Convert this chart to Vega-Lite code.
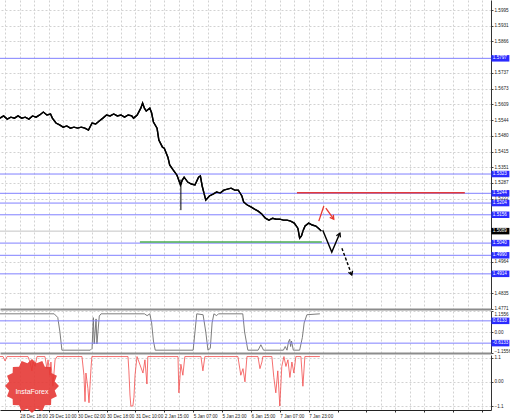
{
  "$schema": "https://vega.github.io/schema/vega-lite/v6.json",
  "background": "white",
  "padding": {"left": -3, "top": 0, "right": 0, "bottom": 0},
  "spacing": 2,
  "bounds": "flush",
  "config": {
    "view": {"stroke": null},
    "font": "Liberation Sans",
    "axis": {
      "labelFont": "Liberation Sans",
      "labelFontSize": 4.6,
      "labelColor": "#222222",
      "gridColor": "#d2d2d2",
      "gridDash": [2, 2],
      "gridWidth": 1,
      "tickColor": "#444444",
      "tickSize": 2,
      "domainColor": "#333333",
      "labelOverlap": false,
      "labelBound": false,
      "title": null
    }
  },
  "datasets": {
    "price": [
      {"b":0,"p":1.5552},{"b":2,"p":1.5561},{"b":4,"p":1.5548},{"b":6,"p":1.5556},{"b":8,"p":1.5552},{"b":10,"p":1.5561},{"b":12,"p":1.5552},{"b":14,"p":1.5556},{"b":16,"p":1.5548},{"b":18,"p":1.5561},{"b":20,"p":1.5556},{"b":22,"p":1.5565},{"b":24,"p":1.5577},{"b":26,"p":1.5565},{"b":28,"p":1.5569},{"b":29,"p":1.5552},{"b":31,"p":1.5532},{"b":33,"p":1.5524},{"b":35,"p":1.5515},{"b":37,"p":1.552},{"b":39,"p":1.5511},{"b":41,"p":1.5515},{"b":43,"p":1.5511},{"b":45,"p":1.5515},{"b":47,"p":1.5511},{"b":49,"p":1.5503},{"b":51,"p":1.5532},{"b":53,"p":1.5528},{"b":55,"p":1.554},{"b":57,"p":1.5552},{"b":59,"p":1.5565},{"b":61,"p":1.5561},{"b":63,"p":1.5569},{"b":65,"p":1.5561},{"b":67,"p":1.5565},{"b":69,"p":1.5556},{"b":71,"p":1.5565},{"b":73,"p":1.5561},{"b":74,"p":1.5552},{"b":76,"p":1.5565},{"b":78,"p":1.5593},{"b":79,"p":1.5614},{"b":80,"p":1.5593},{"b":81,"p":1.5581},{"b":83,"p":1.5593},{"b":84,"p":1.5573},{"b":85,"p":1.5536},{"b":87,"p":1.5511},{"b":88,"p":1.5462},{"b":90,"p":1.5433},{"b":91,"p":1.5429},{"b":93,"p":1.5392},{"b":94,"p":1.536},{"b":96,"p":1.5339},{"b":98,"p":1.5319},{"b":100,"p":1.5278},{"b":101,"p":1.5298},{"b":102,"p":1.531},{"b":104,"p":1.529},{"b":106,"p":1.5282},{"b":108,"p":1.5278},{"b":110,"p":1.531},{"b":111,"p":1.5315},{"b":112,"p":1.5274},{"b":113,"p":1.5245},{"b":114,"p":1.5216},{"b":116,"p":1.5233},{"b":118,"p":1.5241},{"b":120,"p":1.5249},{"b":122,"p":1.5245},{"b":124,"p":1.5257},{"b":126,"p":1.5261},{"b":128,"p":1.5265},{"b":130,"p":1.5257},{"b":132,"p":1.5257},{"b":134,"p":1.5233},{"b":135,"p":1.5208},{"b":137,"p":1.5196},{"b":139,"p":1.5188},{"b":141,"p":1.5179},{"b":143,"p":1.5171},{"b":145,"p":1.5159},{"b":147,"p":1.5142},{"b":149,"p":1.5134},{"b":151,"p":1.5142},{"b":153,"p":1.5138},{"b":155,"p":1.5138},{"b":157,"p":1.5134},{"b":159,"p":1.5134},{"b":161,"p":1.513},{"b":163,"p":1.5122},{"b":165,"p":1.5101},{"b":166,"p":1.506},{"b":167,"p":1.5069},{"b":168,"p":1.5093},{"b":169,"p":1.511},{"b":171,"p":1.5122},{"b":173,"p":1.5114},{"b":175,"p":1.511},{"b":177,"p":1.5097},{"b":178,"p":1.5089}
    ],
    "wick": [{"b":100.2,"lo":1.5175,"hi":1.53}],
    "levels": [
      {"price":1.5797,"lab":"1.5797","k":"level"},
      {"price":1.5323,"lab":"1.5323","k":"level"},
      {"price":1.5244,"lab":"1.5244","k":"level"},
      {"price":1.5204,"lab":"1.5204","k":"level"},
      {"price":1.5156,"lab":"1.5156","k":"level"},
      {"price":1.5089,"lab":"1.5089","k":"price"},
      {"price":1.504,"lab":"1.5040","k":"level"},
      {"price":1.499,"lab":"1.4990","k":"level"},
      {"price":1.4914,"lab":"1.4914","k":"level"}
    ],
    "segs": [
      {"kind":"resistance","b":164.5,"b2":257.5,"p":1.5246},
      {"kind":"support","b":77.5,"b2":178.3,"p":1.5044}
    ],
    "arrowBlack": [{"b":178.8,"p":1.5093},{"b":183.8,"p":1.5003},{"b":188.3,"p":1.5081}],
    "arrowDash": [{"b":189.4,"p":1.5019},{"b":194.9,"p":1.4909}],
    "arrowRed": [
      {"seg":"r1","b":176.6,"p":1.513},{"seg":"r1","b":179.4,"p":1.5192},
      {"seg":"r2","b":180.5,"p":1.5183},{"seg":"r2","b":184.9,"p":1.5138}
    ],
    "heads": [
      {"h":"bu","b":188.3,"p":1.5081},
      {"h":"bd","b":194.9,"p":1.4909},
      {"h":"rd","b":184.9,"p":1.5138}
    ],
    "osc": [
      {"b":0,"v":1.0},{"b":30,"v":1.0},{"b":32,"v":0.8},{"b":33.2,"v":0},{"b":34.3,"v":-1.0},{"b":50,"v":-1.0},{"b":51,"v":-0.9},{"b":51.7,"v":0.79},{"b":52.2,"v":-0.66},{"b":53.2,"v":0.72},{"b":53.7,"v":-0.66},{"b":55,"v":0.88},{"b":56,"v":1.0},{"b":80,"v":1.0},{"b":81.5,"v":0.9},{"b":83,"v":1.0},{"b":84,"v":0.5},{"b":85,"v":-0.5},{"b":86,"v":-1.0},{"b":107,"v":-1.0},{"b":108,"v":0},{"b":109,"v":1.0},{"b":112.5,"v":0.95},{"b":114,"v":0},{"b":115.2,"v":-1.0},{"b":116.5,"v":-0.9},{"b":117.5,"v":0.5},{"b":118.5,"v":1.0},{"b":120,"v":0.9},{"b":121,"v":1.0},{"b":134.5,"v":1.0},{"b":135.5,"v":0},{"b":137.3,"v":-1.0},{"b":143,"v":-1.0},{"b":144.5,"v":-0.7},{"b":146,"v":-1.0},{"b":157,"v":-1.0},{"b":158,"v":-0.8},{"b":159,"v":-1.0},{"b":159.8,"v":-0.55},{"b":160.5,"v":-0.4},{"b":161,"v":-0.8},{"b":161.5,"v":-0.5},{"b":162.5,"v":-1.0},{"b":166,"v":-1.0},{"b":167.5,"v":-0.3},{"b":168.5,"v":0.5},{"b":170,"v":0.95},{"b":177.2,"v":1.0}
    ],
    "oscLevels": [{"v":0.6133,"lab":"0.6133"},{"v":-0.6133,"lab":"-0.6133"}],
    "red": [
      {"b":0,"v":1.15},{"b":1.7,"v":1.15},{"b":2.8,"v":0.95},{"b":3.9,"v":1.15},{"b":15.5,"v":1.15},{"b":16.6,"v":0.9},{"b":17.7,"v":0.5},{"b":18.3,"v":0.9},{"b":19.4,"v":0.7},{"b":20.5,"v":1.15},{"b":24.9,"v":1.15},{"b":26.0,"v":0.6},{"b":26.6,"v":1.0},{"b":27.7,"v":0.3},{"b":28.2,"v":0.9},{"b":29.3,"v":-0.2},{"b":30.5,"v":1.0},{"b":31.6,"v":1.15},{"b":45.4,"v":1.15},{"b":46.5,"v":0.3},{"b":47.1,"v":-0.9},{"b":47.6,"v":0.4},{"b":48.7,"v":-0.3},{"b":49.3,"v":-0.95},{"b":50.4,"v":0.6},{"b":50.9,"v":1.15},{"b":70.9,"v":1.15},{"b":71.4,"v":0.5},{"b":72.0,"v":-0.6},{"b":72.5,"v":-1.1},{"b":73.6,"v":-1.1},{"b":74.2,"v":-0.7},{"b":74.8,"v":0.3},{"b":75.9,"v":1.15},{"b":79.2,"v":0.4},{"b":80.3,"v":1.0},{"b":81.4,"v":-0.1},{"b":81.9,"v":1.15},{"b":98.6,"v":1.15},{"b":99.1,"v":-0.5},{"b":100.2,"v":0.8},{"b":101.3,"v":0.3},{"b":102.4,"v":1.15},{"b":111.3,"v":1.15},{"b":112.4,"v":0.5},{"b":113.5,"v":1.15},{"b":131.8,"v":1.15},{"b":133.4,"v":0.3},{"b":134.6,"v":0.6},{"b":135.7,"v":0.0},{"b":136.8,"v":1.15},{"b":142.9,"v":1.15},{"b":144.0,"v":0.6},{"b":145.1,"v":0.9},{"b":145.6,"v":1.15},{"b":150.6,"v":1.15},{"b":151.7,"v":0.2},{"b":152.8,"v":-0.5},{"b":153.9,"v":0.5},{"b":155.0,"v":-1.1},{"b":156.1,"v":0.7},{"b":157.3,"v":1.15},{"b":158.4,"v":0.7},{"b":159.5,"v":1.0},{"b":160.6,"v":0.2},{"b":161.7,"v":0.9},{"b":162.8,"v":0.4},{"b":163.9,"v":1.15},{"b":166.7,"v":1.15},{"b":167.8,"v":-0.2},{"b":168.9,"v":1.15},{"b":177.2,"v":1.15}
    ]
  },
  "vconcat": [
    {
      "width": 491,
      "height": 309,
      "layer": [
        {
          "data": {"name": "price"},
          "mark": {"type": "line", "color": "black", "strokeWidth": 1.4},
          "encoding": {
            "x": {"field": "b", "type": "quantitative",
              "scale": {"domain": [0, 272], "nice": false, "zero": false},
              "axis": {"orient": "bottom", "values": [3,11,19,27,35,43,51,59,67,75,83,91,99,107,115,123,131,139,147,155,163,171,179,187,195,203,211,219,227,235,243,251,259,267],
                "tickCount": 200, "labels": false, "ticks": false, "grid": true, "domainColor": "#8c8c8c", "domainWidth": 2}},
            "y": {"field": "p", "type": "quantitative",
              "scale": {"domain": [1.477, 1.6036], "nice": false, "zero": false},
              "axis": {"orient": "right", "values": [1.5995,1.5931,1.5866,1.5737,1.5673,1.5609,1.5544,1.548,1.5415,1.5351,1.5287,1.5222,1.4964,1.4835,1.4771],
                "tickCount": 200, "format": ".4f", "grid": true, "labelPadding": 1, "labelFlush": false}}
          }
        },
        {
          "data": {"name": "levels"},
          "mark": {"type": "rule", "strokeWidth": 1},
          "encoding": {
            "y": {"field": "price", "type": "quantitative"},
            "stroke": {"field": "k", "type": "nominal", "scale": {"domain": ["level", "price"], "range": ["#8080ff", "#c4c4c4"]}, "legend": null}
          }
        },
        {
          "data": {"name": "segs"},
          "mark": {"type": "rule", "strokeWidth": 1.5},
          "encoding": {
            "x": {"field": "b", "type": "quantitative"},
            "x2": {"field": "b2"},
            "y": {"field": "p", "type": "quantitative"},
            "color": {"field": "kind", "type": "nominal", "scale": {"domain": ["resistance", "support"], "range": ["#e23a3a", "#4caf50"]}, "legend": null}
          }
        },
        {
          "data": {"name": "price"},
          "mark": {"type": "line", "color": "black", "strokeWidth": 1.4},
          "encoding": {
            "x": {"field": "b", "type": "quantitative"},
            "y": {"field": "p", "type": "quantitative"}
          }
        },
        {
          "data": {"name": "wick"},
          "mark": {"type": "rule", "color": "black", "strokeWidth": 1},
          "encoding": {
            "x": {"field": "b", "type": "quantitative"},
            "y": {"field": "lo", "type": "quantitative"},
            "y2": {"field": "hi"}
          }
        },
        {
          "data": {"name": "arrowBlack"},
          "mark": {"type": "line", "color": "black", "strokeWidth": 1.4},
          "encoding": {
            "x": {"field": "b", "type": "quantitative"},
            "y": {"field": "p", "type": "quantitative"}
          }
        },
        {
          "data": {"name": "arrowDash"},
          "mark": {"type": "line", "color": "black", "strokeWidth": 1.4, "strokeDash": [3, 2]},
          "encoding": {
            "x": {"field": "b", "type": "quantitative"},
            "y": {"field": "p", "type": "quantitative"}
          }
        },
        {
          "data": {"name": "arrowRed"},
          "mark": {"type": "line", "color": "#e8382f", "strokeWidth": 1.3},
          "encoding": {
            "x": {"field": "b", "type": "quantitative"},
            "y": {"field": "p", "type": "quantitative"},
            "detail": {"field": "seg"}
          }
        },
        {
          "data": {"name": "heads"},
          "transform": [{"filter": "datum.h == 'bu'"}],
          "mark": {"type": "point", "shape": "M-0.7,1.2L0,0L0.7,1.2", "filled": false, "stroke": "black", "strokeWidth": 1.3, "size": 40, "angle": 23, "opacity": 1},
          "encoding": {
            "x": {"field": "b", "type": "quantitative"},
            "y": {"field": "p", "type": "quantitative"}
          }
        },
        {
          "data": {"name": "heads"},
          "transform": [{"filter": "datum.h == 'bd'"}],
          "mark": {"type": "point", "shape": "M-0.7,1.2L0,0L0.7,1.2", "filled": false, "stroke": "black", "strokeWidth": 1.3, "size": 40, "angle": 160, "opacity": 1},
          "encoding": {
            "x": {"field": "b", "type": "quantitative"},
            "y": {"field": "p", "type": "quantitative"}
          }
        },
        {
          "data": {"name": "heads"},
          "transform": [{"filter": "datum.h == 'rd'"}],
          "mark": {"type": "point", "shape": "M-0.7,1.2L0,0L0.7,1.2", "filled": false, "stroke": "#e8382f", "strokeWidth": 1.3, "size": 40, "angle": 144, "opacity": 1},
          "encoding": {
            "x": {"field": "b", "type": "quantitative"},
            "y": {"field": "p", "type": "quantitative"}
          }
        },
        {
          "data": {"name": "levels"},
          "mark": {"type": "point", "shape": "M-1,-0.36H1V0.36H-1Z", "filled": true, "size": 324, "opacity": 1, "strokeWidth": 0},
          "encoding": {
            "x": {"datum": 277.2, "type": "quantitative"},
            "y": {"field": "price", "type": "quantitative"},
            "fill": {"field": "k", "type": "nominal", "scale": {"domain": ["level", "price"], "range": ["#2a2aff", "#000000"]}, "legend": null}
          }
        },
        {
          "data": {"name": "levels"},
          "mark": {"type": "text", "color": "white", "fontSize": 4.6, "align": "left", "baseline": "middle", "font": "Liberation Sans"},
          "encoding": {
            "x": {"datum": 273.0, "type": "quantitative"},
            "y": {"field": "price", "type": "quantitative"},
            "text": {"field": "lab"}
          }
        }
      ]
    },
    {
      "width": 491,
      "height": 42,
      "layer": [
        {
          "data": {"name": "osc"},
          "mark": {"type": "line", "color": "#6e6e6e", "strokeWidth": 0.9},
          "encoding": {
            "x": {"field": "b", "type": "quantitative",
              "scale": {"domain": [0, 272], "nice": false, "zero": false},
              "axis": {"orient": "bottom", "values": [3,11,19,27,35,43,51,59,67,75,83,91,99,107,115,123,131,139,147,155,163,171,179,187,195,203,211,219,227,235,243,251,259,267],
                "tickCount": 200, "labels": false, "ticks": false, "grid": true, "domainColor": "#8c8c8c", "domainWidth": 2}},
            "y": {"field": "v", "type": "quantitative",
              "scale": {"domain": [-1.1556, 1.1556], "nice": false, "zero": false},
              "axis": {"orient": "right", "values": [1.1556, 0, -1.1556], "tickCount": 200, "labelExpr": "datum.value == 0 ? '0.00' : format(datum.value, '.4f')", "grid": true, "labelPadding": 1, "labelFlush": true}}
          }
        },
        {
          "data": {"name": "oscLevels"},
          "mark": {"type": "rule", "color": "#8080ff", "strokeWidth": 1},
          "encoding": {"y": {"field": "v", "type": "quantitative"}}
        },
        {
          "data": {"name": "oscLevels"},
          "mark": {"type": "point", "shape": "M-1,-0.36H1V0.36H-1Z", "filled": true, "size": 324, "opacity": 1, "fill": "#2a2aff", "strokeWidth": 0},
          "encoding": {
            "x": {"datum": 277.2, "type": "quantitative"},
            "y": {"field": "v", "type": "quantitative"}
          }
        },
        {
          "data": {"name": "oscLevels"},
          "mark": {"type": "text", "color": "white", "fontSize": 4.6, "align": "left", "baseline": "middle", "font": "Liberation Sans"},
          "encoding": {
            "x": {"datum": 273.0, "type": "quantitative"},
            "y": {"field": "v", "type": "quantitative"},
            "text": {"field": "lab"}
          }
        }
      ]
    },
    {
      "width": 491,
      "height": 55,
      "layer": [
        {
          "data": {"name": "red"},
          "mark": {"type": "line", "color": "#f24b4b", "strokeWidth": 0.8},
          "encoding": {
            "x": {"field": "b", "type": "quantitative",
              "scale": {"domain": [0, 272], "nice": false, "zero": false},
              "axis": {"orient": "bottom", "values": [3,11,19,27,35,43,51,59,67,75,83,91,99,107,115,123,131,139,147,155,163,171,179,187,195,203,211,219,227,235,243,251,259,267],
                "tickCount": 200,
                "labelExpr": "(datum.value - 11) % 16 == 0 ? ['28 Dec 18:00','29 Dec 10:00','30 Dec 02:00','30 Dec 18:00','31 Dec 10:00','2 Jan 15:00','5 Jan 07:00','5 Jan 23:00','6 Jan 15:00','7 Jan 07:00','7 Jan 23:00'][(datum.value - 11) / 16] : ''",
                "tickColor": {"condition": {"test": "(datum.value - 11) % 16 == 0", "value": "#333333"}, "value": "transparent"},
                "labelAlign": "left", "labelPadding": 1, "labelFlush": false, "grid": true, "domainColor": "#222222", "domainWidth": 1}},
            "y": {"field": "v", "type": "quantitative",
              "scale": {"domain": [-1.28, 1.22], "nice": false, "zero": false},
              "axis": {"orient": "right", "values": [1.1, 0, -1.1], "tickCount": 200, "labelExpr": "datum.value == 0 ? '0.00' : format(datum.value, '.1f')", "grid": true, "labelPadding": 1}}
          }
        },
        {
          "data": {"values": [{"brand": "InstaForex"}]},
          "mark": {"type": "point", "shape": "M1,0L0.8435,0.1678L0.9239,0.3827L0.7151,0.4778L0.7071,0.7071L0.4778,0.7151L0.3827,0.9239L0.1678,0.8435L0,1L-0.1678,0.8435L-0.3827,0.9239L-0.4778,0.7151L-0.7071,0.7071L-0.7151,0.4778L-0.9239,0.3827L-0.8435,0.1678L-1,0L-0.8435,-0.1678L-0.9239,-0.3827L-0.7151,-0.4778L-0.7071,-0.7071L-0.4778,-0.7151L-0.3827,-0.9239L-0.1678,-0.8435L0,-1L0.1678,-0.8435L0.3827,-0.9239L0.4778,-0.7151L0.7071,-0.7071L0.7151,-0.4778L0.9239,-0.3827L0.8435,-0.1678Z",
            "filled": true, "fill": "#e53935", "strokeWidth": 0, "size": 2916, "opacity": 0.9},
          "encoding": {
            "x": {"datum": 17.7, "type": "quantitative"},
            "y": {"datum": -0.19, "type": "quantitative"}
          }
        },
        {
          "data": {"values": [{"brand": "InstaForex"}]},
          "mark": {"type": "text", "color": "white", "fontSize": 7, "font": "Liberation Sans", "baseline": "middle", "align": "center"},
          "encoding": {
            "x": {"datum": 17.7, "type": "quantitative"},
            "y": {"datum": -0.46, "type": "quantitative"},
            "text": {"field": "brand"}
          }
        }
      ]
    }
  ]
}
